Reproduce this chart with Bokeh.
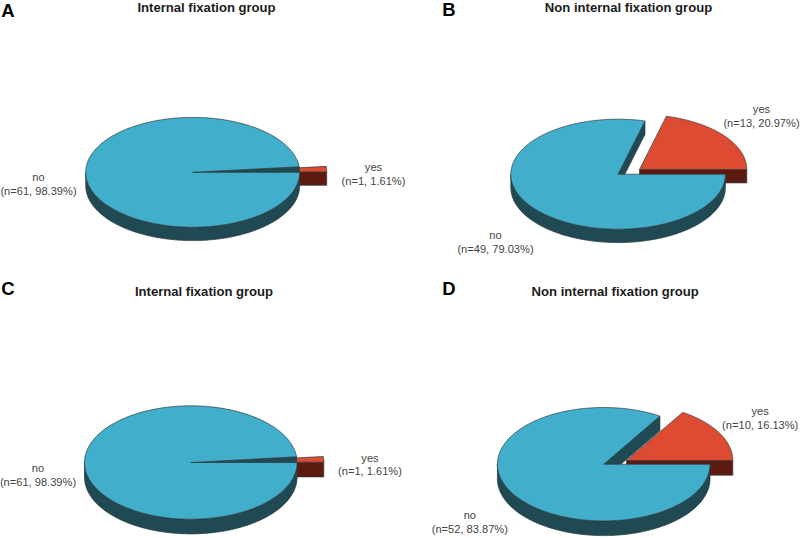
import numpy as np
from bokeh.plotting import figure
from bokeh.models import Range1d
from bokeh.core.properties import value
from bokeh.embed import file_html
from bokeh.resources import INLINE

# ---- data ----
panel_letters = ["A", "B", "C", "D"]
panel_titles = ["Internal fixation group", "Non internal fixation group",
                "Internal fixation group", "Non internal fixation group"]
no_counts = [61, 49, 61, 52]
yes_counts = [1, 13, 1, 10]
no_labels = ["(n=61, 98.39%)", "(n=49, 79.03%)", "(n=61, 98.39%)", "(n=52, 83.87%)"]
yes_labels = ["(n=1, 1.61%)", "(n=13, 20.97%)", "(n=1, 1.61%)", "(n=10, 16.13%)"]

# ---- layout (pixels) ----
# cx, cy, rx, ry, depth, explode dx, explode dy
pie_geom = [(192.2, 171.8, 107.0, 54.9, 13.4, 27.0, -0.4),
            (617.6, 173.7, 107.3, 55.0, 13.4, 21.4, -4.7),
            (190.3, 462.0, 106.3, 56.7, 14.7, 26.7, -0.3),
            (603.2, 463.7, 106.3, 56.7, 14.7, 22.8, -3.7)]
letter_pos = [(7.5, 10), (448.5, 9), (7.5, 288), (448.5, 288)]
title_pos = [(206, 7), (628, 7), (203.5, 291), (614.7, 291)]
no_pos = [(38, 176.5), (495, 234.5), (37.5, 467.5), (469.3, 514.5)]
yes_pos = [(373, 166.5), (761, 108.5), (369.5, 457.2), (759.7, 410.5)]
LINE_GAP = 13.7

BLUE, BLUE_D = "#41afcb", "#1f4a54"
RED, RED_D = "#dc4b32", "#5c1a10"
EDGE = "#2e3a3e"
FONT = value("Liberation Sans")

p = figure(width=800, height=538, output_backend="svg", toolbar_location=None,
           x_range=Range1d(0, 800), y_range=Range1d(538, 0),
           min_border=0, outline_line_color=None, margin=(0, 0, 0, 0))
p.axis.visible = False
p.grid.visible = False
p.background_fill_color = "white"


def arc(cx, cy, rx, ry, a0, a1, n=180):
    t = np.radians(np.linspace(a0, a1, n))
    return cx + rx * np.cos(t), cy - ry * np.sin(t)


def poly(xs, ys, fill):
    p.patch(list(xs), list(ys), fill_color=fill, line_color=EDGE, line_width=0.7)


for i in range(4):
    cx, cy, rx, ry, d, ex, ey = pie_geom[i]
    theta = 360.0 * yes_counts[i] / (yes_counts[i] + no_counts[i])

    # exploded "yes" slice: front wall, then top
    sx, sy = cx + ex, cy + ey
    poly([sx, sx + rx, sx + rx, sx], [sy, sy, sy + d, sy + d], RED_D)
    ax, ay = arc(sx, sy, rx, ry, 0, theta)
    poly(np.r_[sx, ax], np.r_[sy, ay], RED)

    # "no" slice: cut wall, outer wall, top
    ex0, ey0 = arc(cx, cy, rx, ry, theta, theta, 1)
    poly([cx, ex0[0], ex0[0], cx], [cy, ey0[0], ey0[0] + d, cy + d], BLUE_D)
    fx, fy = arc(cx, cy, rx, ry, 180, 360)
    poly(np.r_[fx, fx[::-1]], np.r_[fy, fy[::-1] + d], BLUE_D)
    bx, by = arc(cx, cy, rx, ry, theta, 360, 360)
    poly(np.r_[cx, bx], np.r_[cy, by], BLUE)

    # texts
    p.text([letter_pos[i][0]], [letter_pos[i][1]], text=[panel_letters[i]], text_font=FONT,
           text_font_style="bold", text_font_size="18.5px", text_color="#000000",
           text_align="center", text_baseline="middle")
    p.text([title_pos[i][0]], [title_pos[i][1]], text=[panel_titles[i]], text_font=FONT,
           text_font_style="bold", text_font_size="13.1px", text_color="#1c1c1c",
           text_align="center", text_baseline="middle")
    for (lx, ly), cat, lab in ((no_pos[i], "no", no_labels[i]), (yes_pos[i], "yes", yes_labels[i])):
        p.text([lx, lx], [ly, ly + LINE_GAP], text=[cat, lab], text_font=FONT,
               text_font_size="11.1px", text_color="#444444",
               text_align="center", text_baseline="middle")

open("out.html", "w").write(file_html(p, INLINE))
